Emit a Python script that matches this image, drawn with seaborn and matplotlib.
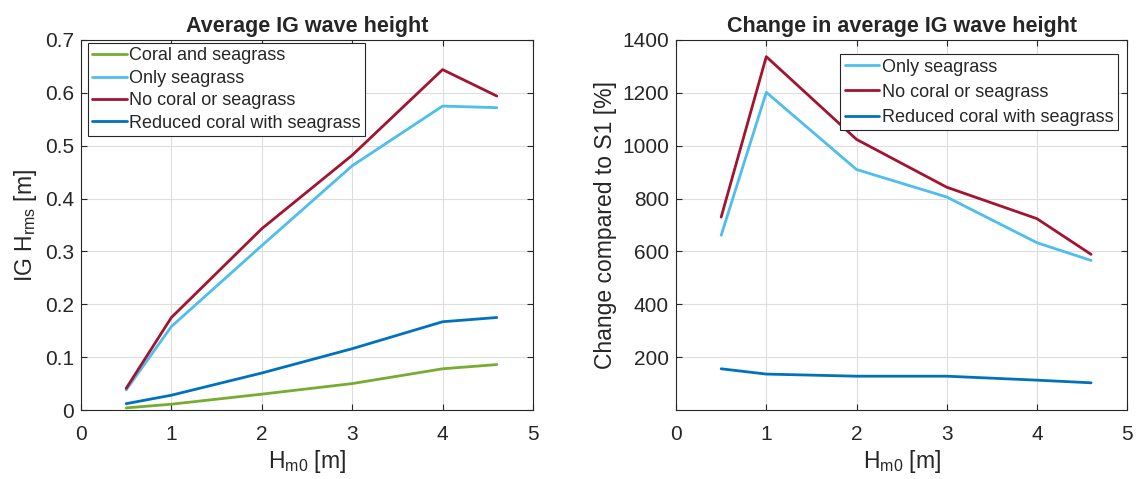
import numpy as np
import pandas as pd
import matplotlib
matplotlib.use("Agg")
import matplotlib.pyplot as plt
import seaborn as sns

# ---- data ----
hm0 = [0.5, 1, 2, 3, 4, 4.6]
coral_and_seagrass = [0.004, 0.011, 0.030, 0.050, 0.078, 0.086]
only_seagrass = [0.038, 0.158, 0.311, 0.462, 0.575, 0.572]
no_coral_or_seagrass = [0.041, 0.175, 0.343, 0.482, 0.644, 0.594]
reduced_coral_with_seagrass = [0.012, 0.028, 0.070, 0.116, 0.167, 0.175]

change_only_seagrass = [661, 1202, 910, 806, 633, 566]
change_no_coral_or_seagrass = [730, 1337, 1024, 843, 724, 589]
change_reduced_coral = [156, 136, 128, 128, 113, 103]

labels_left = ["Coral and seagrass", "Only seagrass", "No coral or seagrass",
               "Reduced coral with seagrass"]
labels_right = ["Only seagrass", "No coral or seagrass", "Reduced coral with seagrass"]
colors = {"Coral and seagrass": "#77AC30", "Only seagrass": "#4DBEEE",
          "No coral or seagrass": "#A2142F", "Reduced coral with seagrass": "#0072BD"}

left_df = pd.DataFrame({
    "x": hm0 * 4,
    "y": coral_and_seagrass + only_seagrass + no_coral_or_seagrass + reduced_coral_with_seagrass,
    "series": sum([[l] * len(hm0) for l in labels_left], []),
})
right_df = pd.DataFrame({
    "x": hm0 * 3,
    "y": change_only_seagrass + change_no_coral_or_seagrass + change_reduced_coral,
    "series": sum([[l] * len(hm0) for l in labels_right], []),
})

sns.set_theme(style="white")
plt.rcParams['font.family'] = ['Liberation Sans', 'DejaVu Sans']
plt.rcParams['mathtext.fontset'] = 'custom'
plt.rcParams['mathtext.rm'] = 'Liberation Sans'

fig = plt.figure(figsize=(11.42, 4.79), dpi=100)
ax1 = fig.add_axes([0.0709, 0.144, 0.3958, 0.7725])
ax2 = fig.add_axes([0.592, 0.144, 0.395, 0.7725])

sns.lineplot(data=left_df, x="x", y="y", hue="series", hue_order=labels_left,
             palette=colors, ax=ax1, linewidth=2, sort=False)
sns.lineplot(data=right_df, x="x", y="y", hue="series", hue_order=labels_right,
             palette=colors, ax=ax2, linewidth=2, sort=False)

for ax in (ax1, ax2):
    ax.set_xlim(0, 5)
    ax.set_xticks(range(0, 6))
    ax.grid(True, color="#dedede", linewidth=0.8)
    ax.set_axisbelow(True)
    for s in ax.spines.values():
        s.set_color("#262626")
        s.set_linewidth(0.8)
        s.set_visible(True)
    ax.tick_params(direction="in", length=4, width=0.8, colors="#262626",
                   labelsize=15, top=True, right=True, bottom=True, left=True,
                   labeltop=False, labelright=False, pad=5)
    ax.tick_params(axis="x", pad=11)
    ax.set_xlabel("H$_{\\mathregular{m0}}$ [m]", fontsize=16.5, color="#262626", labelpad=3)

ax1.set_ylim(0, 0.7)
ax1.set_yticks(np.arange(0, 0.71, 0.1))
ax1.set_yticklabels(["0", "0.1", "0.2", "0.3", "0.4", "0.5", "0.6", "0.7"])
ax1.set_ylabel("IG H$_{\\mathregular{rms}}$ [m]", fontsize=16.5, color="#262626", labelpad=4)
ax1.set_title("Average IG wave height", fontsize=15.5, fontweight="bold", pad=6)

ax2.set_ylim(0, 1400)
ax2.set_yticks(range(200, 1401, 200))
ax2.set_ylabel("Change compared to S1 [%]", fontsize=16.5, color="#262626", labelpad=4)
ax2.set_title("Change in average IG wave height", fontsize=15.5, fontweight="bold", pad=6)

leg_kw = dict(fontsize=13, frameon=True, fancybox=False, framealpha=1,
              edgecolor="#262626", handlelength=1.9, handletextpad=0.15,
              borderpad=0.25, borderaxespad=0)
h1, l1 = ax1.get_legend_handles_labels()
ax1.legend(h1, l1, loc="upper left", bbox_to_anchor=(0.015, 0.992),
           labelspacing=0.3, **leg_kw)
h2, l2 = ax2.get_legend_handles_labels()
ax2.legend(h2, l2, loc="upper right", bbox_to_anchor=(0.98, 0.962),
           labelspacing=0.45, **leg_kw)
for lg in (ax1.get_legend(), ax2.get_legend()):
    lg.get_frame().set_linewidth(0.8)

fig.savefig("out.png", dpi=100)
